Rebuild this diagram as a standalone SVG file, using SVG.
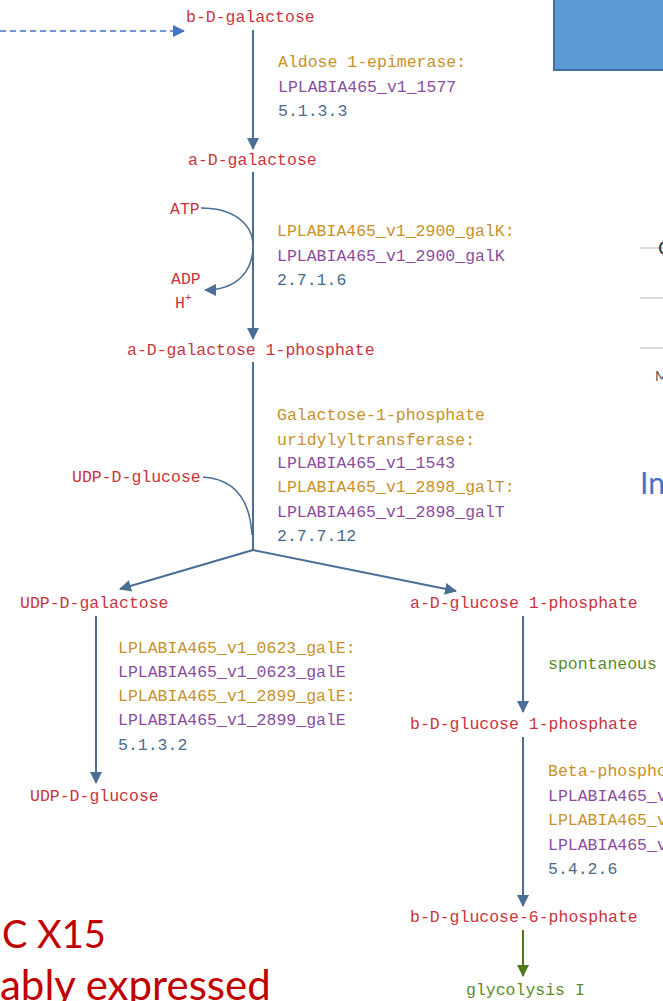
<svg xmlns="http://www.w3.org/2000/svg" width="663" height="1001" viewBox="0 0 663 1001">
<defs>
<style>
.t{font-family:"Liberation Mono","DejaVu Sans Mono",monospace;font-size:16.5px}
.cpd{fill:#c8343c}
.enz{fill:#c8922a}
.gene{fill:#8a4d9e}
.ec{fill:#4b6b8c}
.sp{fill:#5b8a2e}
.ln{fill:none;stroke:#4a6e94;stroke-width:2}
.lnThin{fill:none;stroke:#4a6e94;stroke-width:1.5}
.slide{font-family:Lato,"Open Sans",sans-serif}
</style>
<marker id="ah" markerWidth="12" markerHeight="14" refX="11" refY="6" orient="auto" markerUnits="userSpaceOnUse" viewBox="0 0 12 12">
<path d="M0,0 L12,6 L0,12 z" fill="#4a6e94"/>
</marker>
<marker id="ahg" markerWidth="12" markerHeight="14" refX="11" refY="6" orient="auto" markerUnits="userSpaceOnUse" viewBox="0 0 12 12">
<path d="M0,0 L12,6 L0,12 z" fill="#4e7a1a"/>
</marker>
<marker id="ahb" markerWidth="12" markerHeight="12" refX="11" refY="6" orient="auto" markerUnits="userSpaceOnUse" viewBox="0 0 12 12">
<path d="M0,0 L12,6 L0,12 z" fill="#4472c4"/>
</marker>
</defs>
<rect width="663" height="1001" fill="#ffffff"/>

<g id="slide-elements">
<rect x="554" y="-10" width="120" height="80" fill="#5b9bd5" stroke="#41719c" stroke-width="2"/>
<line x1="640" y1="248" x2="663" y2="248" stroke="#d0d0d0" stroke-width="1.5"/>
<line x1="640" y1="298" x2="663" y2="298" stroke="#d0d0d0" stroke-width="1.5"/>
<line x1="640" y1="348" x2="663" y2="348" stroke="#d0d0d0" stroke-width="1.5"/>
<text class="slide" x="658" y="255" font-size="20" fill="#333333">C</text>
<text class="slide" x="655" y="381" font-size="14" fill="#555555">M</text>
<text class="slide" x="640" y="494" font-size="30" fill="#4472c4">In</text>
<text class="slide" x="2" y="948" font-size="38" fill="#c00000">C X15</text>
<text class="slide" x="0" y="1000" font-size="42" fill="#c00000">ably expressed</text>
</g>

<g id="connectors">
<line x1="0" y1="31" x2="184" y2="31" stroke="#4472c4" stroke-width="1.5" stroke-dasharray="6,4" marker-end="url(#ahb)"/>
<line class="ln" x1="253" y1="30" x2="253" y2="149" marker-end="url(#ah)"/>
<line class="ln" x1="253" y1="172" x2="253" y2="339" marker-end="url(#ah)"/>
<path class="lnThin" d="M201,208 C235,208 253,225 253,246 C253,270 238,290 205,290" marker-end="url(#ah)"/>
<line class="ln" x1="253" y1="362" x2="253" y2="550"/>
<path class="lnThin" d="M203,477 C235,479 250,500 252,535"/>
<line class="ln" x1="253" y1="550" x2="120" y2="589" marker-end="url(#ah)"/>
<line class="ln" x1="253" y1="550" x2="456" y2="591" marker-end="url(#ah)"/>
<line class="ln" x1="96" y1="616" x2="96" y2="783" marker-end="url(#ah)"/>
<line class="ln" x1="523" y1="616" x2="523" y2="712" marker-end="url(#ah)"/>
<line class="ln" x1="523" y1="737" x2="523" y2="906" marker-end="url(#ah)"/>
<line x1="523" y1="930" x2="523" y2="976" stroke="#4e7a1a" stroke-width="2" marker-end="url(#ahg)"/>
</g>

<g id="b-D-galactose"><text class="t cpd" x="186" y="22">b-D-galactose</text></g>
<g id="rxn-aldose-epimerase">
<text class="t enz" x="278" y="67">Aldose 1-epimerase:</text>
<text class="t gene" x="278" y="92">LPLABIA465_v1_1577</text>
<text class="t ec" x="278" y="116">5.1.3.3</text>
</g>
<g id="a-D-galactose"><text class="t cpd" x="188" y="165">a-D-galactose</text></g>
<g id="ATP"><text class="t cpd" x="170" y="214">ATP</text></g>
<g id="ADP"><text class="t cpd" x="171" y="284">ADP</text></g>
<g id="H"><text class="t cpd" x="175" y="308">H<tspan font-size="11" dy="-7">+</tspan></text></g>
<g id="rxn-galK">
<text class="t enz" x="277" y="236">LPLABIA465_v1_2900_galK:</text>
<text class="t gene" x="277" y="261">LPLABIA465_v1_2900_galK</text>
<text class="t ec" x="277" y="285">2.7.1.6</text>
</g>
<g id="a-D-galactose-1-phosphate"><text class="t cpd" x="127" y="355">a-D-galactose 1-phosphate</text></g>
<g id="rxn-galT">
<text class="t enz" x="277" y="420">Galactose-1-phosphate</text>
<text class="t enz" x="277" y="445">uridylyltransferase:</text>
<text class="t gene" x="277" y="468">LPLABIA465_v1_1543</text>
<text class="t enz" x="277" y="492">LPLABIA465_v1_2898_galT:</text>
<text class="t gene" x="277" y="517">LPLABIA465_v1_2898_galT</text>
<text class="t ec" x="277" y="541">2.7.7.12</text>
</g>
<g id="UDP-D-glucose-in"><text class="t cpd" x="72" y="482">UDP-D-glucose</text></g>
<g id="UDP-D-galactose"><text class="t cpd" x="20" y="608">UDP-D-galactose</text></g>
<g id="a-D-glucose-1-phosphate"><text class="t cpd" x="410" y="608">a-D-glucose 1-phosphate</text></g>
<g id="rxn-galE">
<text class="t enz" x="118" y="653">LPLABIA465_v1_0623_galE:</text>
<text class="t gene" x="118" y="677">LPLABIA465_v1_0623_galE</text>
<text class="t enz" x="118" y="701">LPLABIA465_v1_2899_galE:</text>
<text class="t gene" x="118" y="725">LPLABIA465_v1_2899_galE</text>
<text class="t ec" x="118" y="750">5.1.3.2</text>
</g>
<g id="UDP-D-glucose-out"><text class="t cpd" x="30" y="801">UDP-D-glucose</text></g>
<g id="rxn-spontaneous"><text class="t sp" x="548" y="669">spontaneous</text></g>
<g id="b-D-glucose-1-phosphate"><text class="t cpd" x="410" y="729">b-D-glucose 1-phosphate</text></g>
<g id="rxn-beta-phosphoglucomutase">
<text class="t enz" x="548" y="776">Beta-phospho</text>
<text class="t gene" x="548" y="801">LPLABIA465_v</text>
<text class="t enz" x="548" y="825">LPLABIA465_v</text>
<text class="t gene" x="548" y="850">LPLABIA465_v</text>
<text class="t ec" x="548" y="874">5.4.2.6</text>
</g>
<g id="b-D-glucose-6-phosphate"><text class="t cpd" x="410" y="922">b-D-glucose-6-phosphate</text></g>
<g id="glycolysis-I"><text class="t sp" x="466" y="995">glycolysis I</text></g>
</svg>
